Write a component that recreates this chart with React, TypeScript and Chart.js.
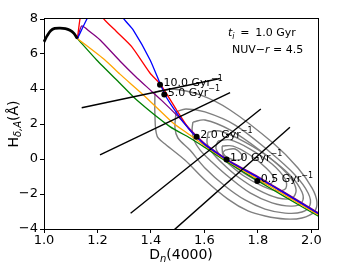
import React, { useEffect, useRef } from "react";
import { Chart, registerables } from "chart.js";

Chart.register(...registerables);

type Pt = [number, number];

// ---- axes ----
const X_MIN = 1.0;
const X_MAX = 2.025;
const Y_MIN = -4;
const Y_MAX = 8;
const X_TICKS = [1.0, 1.2, 1.4, 1.6, 1.8, 2.0];
const Y_TICKS = [-4, -2, 0, 2, 4, 6, 8];

// ---- tracks ----
const thickBlack: Pt[] = [[1.0, 6.7], [1.012, 7.05], [1.025, 7.33], [1.04, 7.46], [1.06, 7.48], [1.08, 7.45], [1.097, 7.36], [1.112, 7.18], [1.125, 6.88]];

const blueTrack: Pt[] = [[1.125, 6.88], [1.162, 8.04], [1.2, 9.0], [1.25, 9.2], [1.285, 8.5], [1.297, 8.04], [1.334, 7.37], [1.397, 5.66], [1.453, 3.66], [1.5, 2.55], [1.54, 1.75], [1.571, 1.25], [1.6, 0.85], [1.65, 0.3], [1.7, -0.2], [1.8, -1.05], [1.9, -1.95], [2.03, -3.15]];

const redTrack: Pt[] = [[1.125, 6.88], [1.135, 8.04], [1.15, 8.9], [1.18, 9.1], [1.21, 8.6], [1.222, 8.04], [1.27, 7.3], [1.328, 6.42], [1.397, 4.9], [1.434, 4.3], [1.496, 2.8], [1.54, 1.77], [1.571, 1.25], [1.6, 0.85], [1.65, 0.3], [1.7, -0.2], [1.8, -1.05], [1.9, -1.95], [2.03, -3.15]];

const purpleTrack: Pt[] = [[1.125, 6.88], [1.141, 7.6], [1.172, 7.27], [1.21, 6.8], [1.284, 5.6], [1.35, 4.6], [1.397, 3.95], [1.44, 3.35], [1.5, 2.45], [1.546, 1.7], [1.6, 0.9], [1.65, 0.34], [1.7, -0.16], [1.8, -1.01], [1.9, -1.91], [2.03, -3.11]];

const orangeTrack: Pt[] = [[1.125, 6.88], [1.228, 5.66], [1.284, 4.85], [1.372, 3.66], [1.484, 2.04], [1.546, 1.37], [1.6, 0.78], [1.683, -0.08], [1.8, -1.15], [1.9, -2.05], [2.03, -3.22]];

const greenTrack: Pt[] = [[1.125, 6.88], [1.197, 5.66], [1.284, 4.33], [1.347, 3.37], [1.471, 1.85], [1.546, 1.2], [1.6, 0.68], [1.683, -0.15], [1.8, -1.25], [1.9, -2.15], [2.03, -3.3]];

// ---- rate points ----
const rateLabels = ["10.0", "5.0", "2.0", "1.0", "0.5"];
const ratePoints: Pt[] = [[1.434, 4.25], [1.45, 3.68], [1.571, 1.27], [1.683, -0.03], [1.798, -1.26]];

// ---- straight black lines ----
const lineA: Pt[] = [[1.141, 2.93], [1.658, 4.6]];
const lineB: Pt[] = [[1.2095, 0.23], [1.696, 3.79]];
const lineC: Pt[] = [[1.324, -3.1], [1.811, 2.86]];
const lineD: Pt[] = [[1.487, -4.05], [1.92, 1.81]];

// ---- density contours ----
const contour1: Pt[] = [[1.415, 3.83], [1.479, 4.0], [1.584, 3.66], [1.696, 2.8], [1.857, 0.91], [1.95, -0.51], [2.003, -1.66], [2.021, -2.46], [2.01, -3.03], [1.965, -3.37], [1.902, -3.43], [1.827, -3.26], [1.763, -2.97], [1.688, -2.29], [1.602, -1.2], [1.527, -0.06], [1.453, 0.86], [1.423, 1.31], [1.415, 2.51]];
const contour2: Pt[] = [[1.494, 2.69], [1.531, 2.86], [1.602, 2.69], [1.715, 1.94], [1.845, 0.4], [1.939, -0.91], [1.988, -1.94], [1.995, -2.63], [1.965, -3.03], [1.902, -3.09], [1.827, -2.86], [1.752, -2.34], [1.677, -1.54], [1.602, -0.51], [1.546, 0.51], [1.501, 1.2], [1.49, 1.77]];
const contour3: Pt[] = [[1.557, 2.11], [1.602, 2.23], [1.696, 1.66], [1.816, 0.4], [1.92, -0.91], [1.965, -1.89], [1.965, -2.46], [1.928, -2.69], [1.853, -2.51], [1.771, -1.94], [1.696, -1.09], [1.628, -0.17], [1.584, 0.51], [1.561, 1.09], [1.554, 1.66]];
const contour4: Pt[] = [[1.614, 1.54], [1.658, 1.6], [1.752, 0.97], [1.845, 0.06], [1.92, -1.03], [1.943, -1.77], [1.928, -2.23], [1.875, -2.23], [1.801, -1.77], [1.726, -1.03], [1.666, -0.23], [1.628, 0.4], [1.61, 0.91]];
const contour5: Pt[] = [[1.651, 1.03], [1.696, 1.09], [1.771, 0.57], [1.853, -0.29], [1.902, -1.14], [1.905, -1.66], [1.875, -1.83], [1.816, -1.54], [1.748, -0.97], [1.696, -0.34], [1.658, 0.23], [1.643, 0.63]];
const contour6: Pt[] = [[1.666, 0.74], [1.707, 0.74], [1.771, 0.23], [1.831, -0.51], [1.86, -1.09], [1.845, -1.43], [1.801, -1.26], [1.741, -0.74], [1.696, -0.23], [1.67, 0.23]];
const contour7: Pt[] = [[1.677, 0.51], [1.715, 0.57], [1.744, 0.11], [1.726, -0.06], [1.688, 0.06], [1.67, 0.34]];
const contours = [contour1, contour2, contour3, contour4, contour5, contour6, contour7];

const FAM = '"DejaVu Sans", sans-serif';

const toXY = (arr: Pt[]) => arr.map(([x, y]) => ({ x, y }));
const ring = (arr: Pt[]) => toXY([...arr, arr[0]]);

type Run = { t: string; size: number; italic?: boolean; dy?: number };

function drawRuns(ctx: CanvasRenderingContext2D, runs: Run[], x: number, y: number, align: "left" | "center") {
  const widths = runs.map((r) => {
    ctx.font = `${r.italic ? "italic " : ""}${r.size}px ${FAM}`;
    return ctx.measureText(r.t).width;
  });
  const total = widths.reduce((a, b) => a + b, 0);
  let cx = align === "center" ? x - total / 2 : x;
  ctx.textAlign = "left";
  ctx.textBaseline = "alphabetic";
  runs.forEach((r, i) => {
    ctx.font = `${r.italic ? "italic " : ""}${r.size}px ${FAM}`;
    ctx.fillText(r.t, cx, y + (r.dy || 0));
    cx += widths[i];
  });
}

const textPlugin = {
  id: "texts",
  afterDatasetsDraw(chart: any) {
    const { ctx, chartArea: a, scales } = chart;
    ctx.save();
    // frame
    ctx.strokeStyle = "#000";
    ctx.lineWidth = 1;
    ctx.strokeRect(a.left + 0.5, a.top - 0.5, a.right - a.left, a.bottom - a.top + 1);
    ctx.fillStyle = "#000";
    // rate labels
    ratePoints.forEach(([x, y], i) => {
      const px = scales.x.getPixelForValue(x);
      const py = scales.y.getPixelForValue(y);
      drawRuns(ctx, [
        { t: `${rateLabels[i]} Gyr`, size: 11 },
        { t: "\u22121", size: 8, dy: -4.5 },
      ], px + 3.5, py + 1, "left");
    });
    // annotations
    drawRuns(ctx, [
      { t: "t", size: 11, italic: true },
      { t: "i", size: 8, italic: true, dy: 2.5 },
      { t: " \u2009=\u2009 1.0 Gyr", size: 11 },
    ], a.right - 90, a.top + 17, "left");
    drawRuns(ctx, [
      { t: "NUV\u2212", size: 11 },
      { t: "r", size: 11, italic: true },
      { t: " = 4.5", size: 11 },
    ], a.right - 86, a.top + 34, "left");
    // axis titles
    drawRuns(ctx, [
      { t: "D", size: 14 },
      { t: "n", size: 10, italic: true, dy: 3 },
      { t: "(4000)", size: 14 },
    ], (a.left + a.right) / 2, 259, "center");
    ctx.translate(18, (a.top + a.bottom) / 2);
    ctx.rotate(-Math.PI / 2);
    drawRuns(ctx, [
      { t: "H", size: 14 },
      { t: "\u03b4,A", size: 10, italic: true, dy: 3 },
      { t: "(\u00c5)", size: 14 },
    ], 0, 0, "center");
    ctx.restore();
  },
};

export default function App() {
  const ref = useRef<HTMLCanvasElement | null>(null);
  useEffect(() => {
    if (!ref.current) return;
    const lineDs = (data: Pt[], color: string, width: number, order: number, tension = 0) => ({
      data: toXY(data),
      showLine: true,
      borderColor: color,
      borderWidth: width,
      pointRadius: 0,
      tension,
      clip: 1,
      order,
    });
    const datasets: any[] = [
      {
        data: toXY(ratePoints),
        showLine: false,
        pointRadius: 3,
        pointBackgroundColor: "#000",
        pointBorderColor: "#000",
        pointBorderWidth: 0,
        clip: 4,
        order: 0,
      },
      lineDs(lineA, "#000", 1.4, 1),
      lineDs(lineB, "#000", 1.4, 1),
      lineDs(lineC, "#000", 1.4, 1),
      lineDs(lineD, "#000", 1.4, 1),
      lineDs(thickBlack, "#000", 2.8, 2, 0.3),
      lineDs(blueTrack, "#0000ff", 1.3, 3, 0.2),
      lineDs(redTrack, "#ff0000", 1.3, 4, 0.2),
      lineDs(purpleTrack, "#800080", 1.3, 5, 0.2),
      lineDs(orangeTrack, "#ffa500", 1.3, 6, 0.2),
      lineDs(greenTrack, "#008000", 1.3, 7, 0.2),
      ...contours.map((c) => ({
        data: ring(c),
        showLine: true,
        borderColor: "#7f7f7f",
        borderWidth: 1.4,
        pointRadius: 0,
        tension: 0.35,
        clip: 1,
        order: 10,
      })),
    ];
    const chart = new Chart(ref.current, {
      type: "scatter",
      data: { datasets },
      options: {
        animation: false,
        responsive: false,
        devicePixelRatio: 1,
        events: [],
        layout: { padding: { top: 19, right: 25, left: 0, bottom: 0 } },
        plugins: { legend: { display: false }, tooltip: { enabled: false } },
        scales: {
          x: {
            type: "linear",
            min: X_MIN,
            max: X_MAX,
            border: { display: false },
            grid: { display: true, drawOnChartArea: false, drawTicks: true, tickLength: 4, color: "#000", lineWidth: 1 },
            ticks: {
              includeBounds: false,
              color: "#000",
              padding: 0,
              maxRotation: 0,
              font: { family: FAM, size: 13 },
              callback: (v: any) => Number(v).toFixed(1),
            },
            afterBuildTicks: (s: any) => {
              s.ticks = X_TICKS.map((v) => ({ value: v }));
            },
            afterFit: (s: any) => {
              s.height = 35;
            },
          },
          y: {
            type: "linear",
            min: Y_MIN,
            max: Y_MAX,
            border: { display: false },
            grid: { display: true, drawOnChartArea: false, drawTicks: true, tickLength: 4, color: "#000", lineWidth: 1 },
            ticks: {
              includeBounds: false,
              color: "#000",
              padding: 2,
              font: { family: FAM, size: 13 },
              callback: (v: any) => (Number(v) < 0 ? "\u2212" + Math.abs(Number(v)) : String(v)),
            },
            afterBuildTicks: (s: any) => {
              s.ticks = Y_TICKS.map((v) => ({ value: v }));
            },
            afterFit: (s: any) => {
              s.width = 44;
            },
          },
        },
      },
      plugins: [textPlugin],
    });
    return () => chart.destroy();
  }, []);
  return (
    <div style={{ position: "fixed", left: 0, top: 0, width: 343, height: 264, background: "#fff" }}>
      <canvas ref={ref} width={343} height={264} style={{ display: "block" }} />
    </div>
  );
}
